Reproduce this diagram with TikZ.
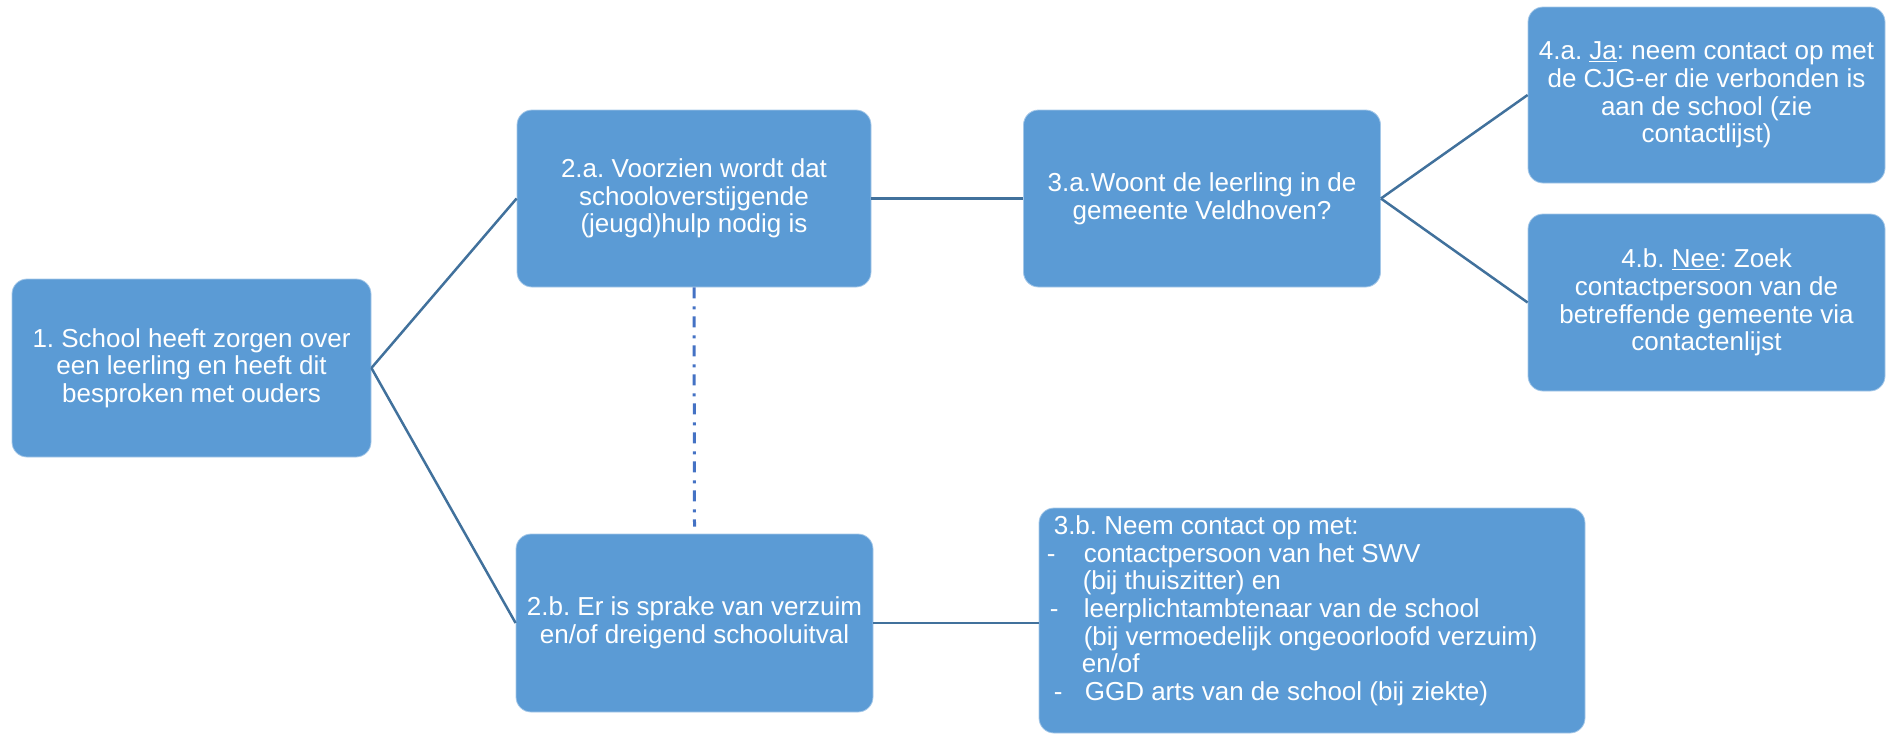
\documentclass[tikz,border=0pt]{standalone}
\usepackage{fontspec}
\setmainfont{Liberation Sans}
\definecolor{boxblue}{HTML}{5B9BD5}
\definecolor{linecol}{HTML}{41719C}
\definecolor{dashcol}{HTML}{4472C4}
\begin{document}
\frenchspacing
\begin{tikzpicture}[x=1pt,y=-1pt,
  box/.style={rectangle, rounded corners=15pt, fill=boxblue, draw=boxblue!55!white,
    line width=0.8pt, text=white, font=\fontsize{26}{27.6}\selectfont\frenchspacing, align=center, inner sep=0pt},
  txt/.style={text=white, font=\fontsize{26}{27.6}\selectfont\frenchspacing, align=left, inner sep=0pt},
  conn/.style={draw=linecol, line width=2.5pt},
  ddash/.style={draw=dashcol, line width=3pt, dash pattern=on 11pt off 8pt on 3pt off 7pt}]
\useasboundingbox (0,0) rectangle (1897,736);

\node[box, minimum width=359pt, minimum height=178pt] (b1) at (191.5,368)
  {1. School heeft zorgen over\\een leerling en heeft dit\\besproken met ouders};
\node[box, minimum width=354pt, minimum height=177pt] (b2a) at (694,198.5)
  {2.a. Voorzien wordt dat\\schooloverstijgende\\(jeugd)hulp nodig is};
\node[box, minimum width=357pt, minimum height=178pt] (b2b) at (694.5,623)
  {2.b. Er is sprake van verzuim\\en/of dreigend schooluitval};
\node[box, minimum width=357pt, minimum height=177pt] (b3a) at (1202,198.5)
  {3.a.Woont de leerling in de\\gemeente Veldhoven?};
\node[box, minimum width=357pt, minimum height=176pt] (b4a) at (1706.5,95)
  {4.a. \underline{Ja}: neem contact op met\\de CJG-er die verbonden is\\aan de school (zie\\contactlijst)};
\node[box, minimum width=357pt, minimum height=177pt] (b4b) at (1706.5,302.5)
  {4.b. \underline{Nee}: Zoek\\contactpersoon van de\\betreffende gemeente via\\contactenlijst};
\node[box, minimum width=546pt, minimum height=225pt] (b3b) at (1312,620.5) {};
\node[txt, anchor=north west] (t3b) at ([xshift=7pt,yshift=-8pt]b3b.north west)
  {\hspace*{8pt}3.b. Neem contact op met:\\
   \makebox[38pt][l]{\hspace*{1pt}-}contactpersoon van het SWV\\
   \hspace*{37pt}(bij thuiszitter) en\\
   \makebox[38pt][l]{\hspace*{4pt}-}leerplichtambtenaar van de school\\
   \hspace*{38pt}(bij vermoedelijk ongeoorloofd verzuim)\\
   \hspace*{36pt}en/of\\
   \makebox[39pt][l]{\hspace*{8pt}-}GGD arts van de school (bij ziekte)};

\draw[conn] (b1.east) -- (b2a.west);
\draw[conn] (b1.east) -- (b2b.west);
\draw[conn] (b2a.east) -- (b3a.west);
\draw[conn] (b3a.east) -- (b4a.west);
\draw[conn] (b3a.east) -- (b4b.west);
\draw[conn] (b2b.east) -- (b2b.east -| b3b.west);
\coordinate (ddend) at ([yshift=7pt]b2b.north);
\draw[ddash] (b2a.south) -- (ddend);
\end{tikzpicture}
\end{document}
